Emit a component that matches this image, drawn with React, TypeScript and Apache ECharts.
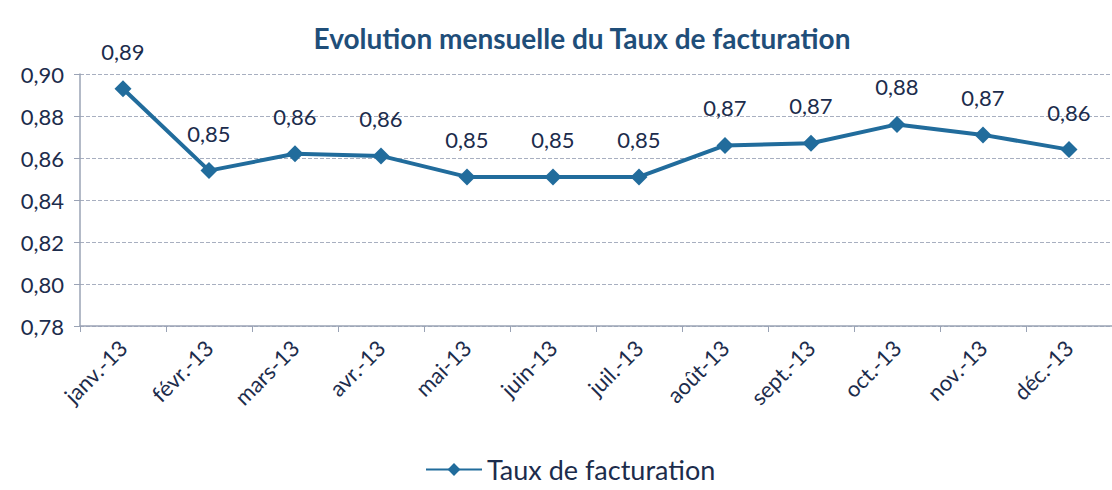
import React, { useEffect, useRef } from "react";
import * as echarts from "echarts";

const categories = [
  "janv.-13", "févr.-13", "mars-13", "avr.-13", "mai-13", "juin-13",
  "juil.-13", "août-13", "sept.-13", "oct.-13", "nov.-13", "déc.-13",
];
const tauxFacturation = [0.893, 0.854, 0.862, 0.861, 0.851, 0.851, 0.851, 0.866, 0.867, 0.876, 0.871, 0.864];
const yMin = 0.78;
const yMax = 0.9;
const yInterval = 0.02;

const fmt = (v: number) => v.toFixed(2).replace(".", ",");

export default function App() {
  const ref = useRef<HTMLDivElement>(null);
  useEffect(() => {
    if (!ref.current) return;
    const chart = echarts.init(ref.current, undefined, { renderer: "svg" });
    const textColor = "#1c2c4c";
    const lineColor = "#216c9c";
    chart.setOption({
      animation: false,
      backgroundColor: "#ffffff",
      title: {
        text: "Evolution mensuelle du Taux de facturation",
        left: 577,
        top: 19,
        textAlign: "center",
        textStyle: { fontFamily: "Lato", fontWeight: "bold", fontSize: 28, color: "#1f4e79" },
      },
      legend: {
        bottom: 2,
        left: 420,
        itemWidth: 56,
        itemHeight: 16,
        itemGap: 4,
        textStyle: { fontFamily: "Lato", fontSize: 27, color: textColor },
        data: ["Taux de facturation"],
      },
      grid: { left: 80, top: 74, width: 1045, height: 252 },
      xAxis: {
        type: "category",
        data: categories,
        boundaryGap: true,
        axisLine: { lineStyle: { color: "#9aa3b5", width: 1.5 } },
        axisTick: { show: true, length: 6, lineStyle: { color: "#9aa3b5" } },
        axisLabel: {
          rotate: 45,
          fontFamily: "Lato",
          fontSize: 22,
          color: textColor,
          margin: 18,
        },
      },
      yAxis: {
        type: "value",
        min: yMin,
        max: yMax,
        interval: yInterval,
        axisLine: { show: true, lineStyle: { color: "#9aa3b5", width: 1.5 } },
        axisTick: { show: true, length: 6, lineStyle: { color: "#9aa3b5" } },
        splitLine: { show: true, lineStyle: { type: "dashed", color: "#a8afc0", width: 1 } },
        axisLabel: {
          formatter: (v: number) => fmt(v),
          fontFamily: "Lato",
          fontSize: 22,
          color: textColor,
          margin: 16,
        },
      },
      series: [
        {
          name: "Taux de facturation",
          type: "line",
          data: tauxFacturation,
          symbol: "diamond",
          symbolSize: 17,
          lineStyle: { color: lineColor, width: 4 },
          itemStyle: { color: lineColor },
          label: {
            show: true,
            position: "top",
            distance: 18,
            formatter: (p: any) => fmt(p.value),
            fontFamily: "Lato",
            fontSize: 22,
            color: textColor,
          },
        },
      ],
    });
    return () => chart.dispose();
  }, []);
  return <div ref={ref} style={{ width: 1112, height: 490, position: "absolute", left: 0, top: 0 }} />;
}
